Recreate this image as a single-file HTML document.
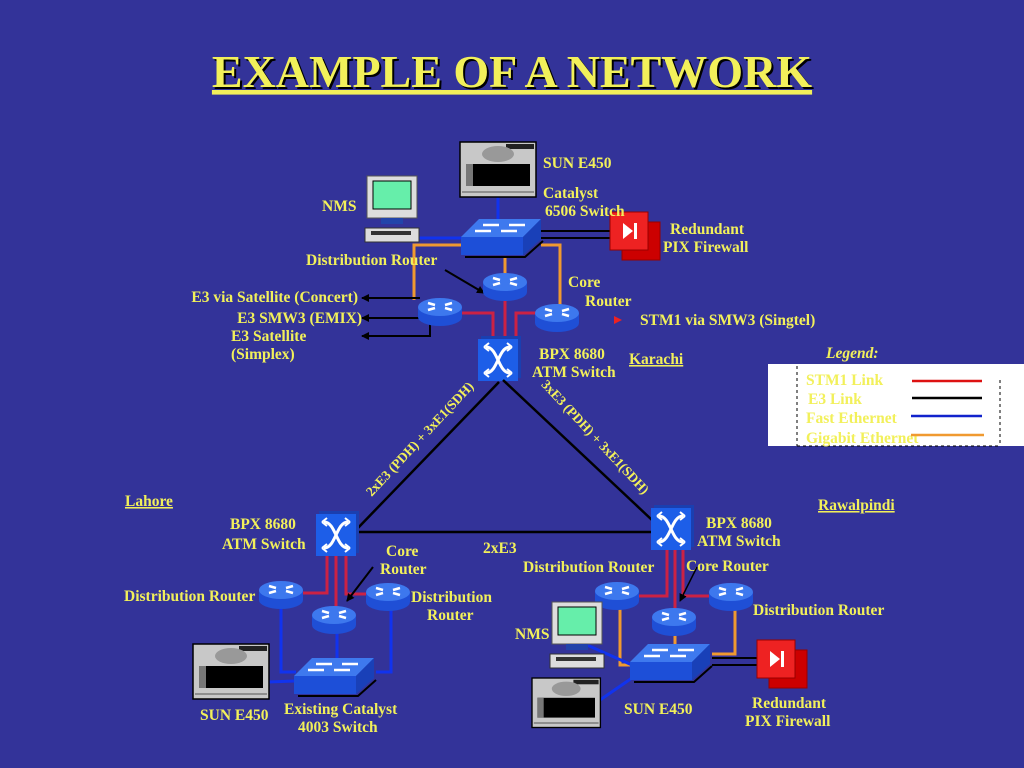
<!DOCTYPE html>
<html><head><meta charset="utf-8"><style>
html,body{margin:0;padding:0;background:#333399;}
svg{display:block}
text{font-family:"Liberation Serif",serif;font-weight:bold;font-size:15.5px;fill:#f2f05a;}
</style></head><body>
<svg width="1024" height="768" viewBox="0 0 1024 768" xmlns="http://www.w3.org/2000/svg">
<defs>
<marker id="ah" markerWidth="8" markerHeight="8" refX="7" refY="4" orient="auto" markerUnits="userSpaceOnUse"><path d="M0,0 L8,4 L0,8 z" fill="#000"/></marker>
<g id="router">
 <path d="M-22,0 L-22,10 A22,9 0 0 0 22,10 L22,0 z" fill="#1f4fd6"/>
 <ellipse cx="0" cy="0" rx="22" ry="9" fill="#3d78ee"/>
 <path d="M-12,-4 l7,2 M-12,3 l7,-2 M12,-4 l-7,2 M12,3 l-7,-2" stroke="#fff" stroke-width="2.5"/>
</g>
<g id="switch">
 <path d="M0,20 L0,38 L62,38 L80,22 L80,2 L62,20 z" fill="#1d4fd8"/>
 <path d="M0,20 L18,2 L80,2 L62,20 z" fill="#3e79ee"/>
 <path d="M62,20 L80,2 L80,22 L62,38 z" fill="#1940b8"/>
 <path d="M4,40 L64,40 L82,24" stroke="#000" stroke-width="2" fill="none"/>
 <path d="M22,8 l16,0 M48,8 l16,0 M14,14 l16,0 M40,14 l16,0" stroke="#fff" stroke-width="2.5"/>
</g>
<g id="bpx">
 <rect x="3" y="-3" width="40" height="42" fill="#1a3fb0"/>
 <rect x="0" y="0" width="40" height="42" fill="#1d5ee8"/>
 <path d="M8,8 C20,8 20,34 32,34 M8,34 C20,34 20,8 32,8" stroke="#fff" stroke-width="3" fill="none"/>
 <path d="M6,8 l5,-4 M6,8 l5,4 M34,8 l-5,-4 M34,8 l-5,4 M6,34 l5,-4 M6,34 l5,4 M34,34 l-5,-4 M34,34 l-5,4" stroke="#fff" stroke-width="2"/>
</g>
<g id="server">
 <rect x="0" y="0" width="76" height="55" fill="#c8c8c8" stroke="#000" stroke-width="1.5"/>
 <rect x="46" y="2" width="28" height="5" fill="#222"/>
 <ellipse cx="38" cy="12" rx="16" ry="8" fill="#999"/>
 <rect x="6" y="22" width="64" height="22" fill="#000"/>
 <rect x="6" y="22" width="7" height="22" fill="#777"/>
 <line x1="2" y1="50" x2="74" y2="50" stroke="#555"/>
</g>
<g id="nms">
 <rect x="0" y="0" width="50" height="42" fill="#ddd" stroke="#555"/>
 <rect x="6" y="5" width="38" height="28" fill="#66eeaa" stroke="#000"/>
 <rect x="-2" y="52" width="54" height="14" fill="#ddd" stroke="#333"/>
 <rect x="14" y="42" width="22" height="6" fill="#2244aa"/>
 <rect x="4" y="55" width="40" height="4" fill="#333"/>
</g>
<g id="fw">
 <rect x="12" y="10" width="38" height="38" fill="#cc0000" stroke="#900"/>
 <rect x="0" y="0" width="38" height="38" fill="#ee2222" stroke="#900"/>
 <path d="M13,11 L23,19 L13,27 z" fill="#fff"/><rect x="24" y="11" width="3" height="16" fill="#fff"/>
</g>
</defs>

<text x="514" y="89" text-anchor="middle" style="font-size:46px;fill:#000">EXAMPLE OF A NETWORK</text>
<text x="512" y="87" text-anchor="middle" style="font-size:46px;text-decoration:underline">EXAMPLE OF A NETWORK</text>

<!-- top links -->
<line x1="498" y1="196" x2="498" y2="220" stroke="#1133ee" stroke-width="3"/>
<line x1="419" y1="238" x2="462" y2="238" stroke="#1133ee" stroke-width="3"/>
<line x1="541" y1="231" x2="612" y2="231" stroke="#000" stroke-width="2"/>
<line x1="541" y1="238" x2="612" y2="238" stroke="#000" stroke-width="2"/>
<path d="M462,245 L414,245 L414,300" stroke="#f09a30" stroke-width="3" fill="none"/>
<path d="M541,245 L560,245 L560,305" stroke="#f09a30" stroke-width="3" fill="none"/>
<line x1="505" y1="257" x2="505" y2="278" stroke="#f09a30" stroke-width="3"/>
<path d="M460,313 L493,313 L493,342" stroke="#cc2244" stroke-width="3" fill="none"/>
<line x1="505" y1="294" x2="505" y2="342" stroke="#cc2244" stroke-width="3"/>
<path d="M537,313 L516,313 L516,342" stroke="#cc2244" stroke-width="3" fill="none"/>
<line x1="420" y1="298" x2="362" y2="298" stroke="#000" stroke-width="2" marker-end="url(#ah)"/>
<line x1="420" y1="318" x2="362" y2="318" stroke="#000" stroke-width="2" marker-end="url(#ah)"/>
<path d="M430,322 L430,336 L362,336" stroke="#000" stroke-width="2" fill="none" marker-end="url(#ah)"/>
<line x1="445" y1="270" x2="484" y2="293" stroke="#000" stroke-width="2" marker-end="url(#ah)"/>

<use href="#server" x="460" y="142"/>
<use href="#nms" x="367" y="176"/>
<use href="#switch" x="461" y="217"/>
<use href="#fw" x="610" y="212"/>
<use href="#router" x="505" y="282"/>
<use href="#router" x="440" y="307"/>
<use href="#router" x="557" y="313"/>
<use href="#bpx" x="478" y="339"/>

<text x="543" y="168">SUN E450</text>
<text x="322" y="211">NMS</text>
<text x="543" y="198">Catalyst</text>
<text x="545" y="216">6506 Switch</text>
<text x="670" y="234">Redundant</text>
<text x="663" y="252">PIX Firewall</text>
<text x="306" y="265">Distribution Router</text>
<text x="568" y="287">Core</text>
<text x="585" y="306">Router</text>
<path d="M614,316 L622,320 L614,324 z" fill="#ee2222"/>
<text x="640" y="325">STM1 via SMW3 (Singtel)</text>
<text x="358" y="302" text-anchor="end">E3 via Satellite (Concert)</text>
<text x="362" y="323" text-anchor="end">E3 SMW3 (EMIX)</text>
<text x="231" y="341">E3 Satellite</text>
<text x="231" y="359">(Simplex)</text>
<text x="539" y="359">BPX 8680</text>
<text x="532" y="377">ATM Switch</text>
<text x="629" y="364" style="text-decoration:underline">Karachi</text>

<!-- legend -->
<text x="826" y="358" style="font-style:italic">Legend:</text>
<rect x="768" y="364" width="256" height="82" fill="#fff"/>
<path d="M797,366 L797,446 M1000,380 L1000,446 M797,446 L1000,446" stroke="#000" stroke-dasharray="3,3" fill="none"/>
<text x="806" y="385">STM1 Link</text>
<text x="808" y="404">E3 Link</text>
<text x="806" y="423">Fast Ethernet</text>
<text x="806" y="443">Gigabit Ethernet</text>
<line x1="912" y1="381" x2="982" y2="381" stroke="#dd1111" stroke-width="2.5"/>
<line x1="912" y1="398" x2="982" y2="398" stroke="#000" stroke-width="2.5"/>
<line x1="911" y1="416" x2="982" y2="416" stroke="#1122cc" stroke-width="2.5"/>
<line x1="911" y1="435" x2="984" y2="435" stroke="#f09a30" stroke-width="2.5"/>

<!-- triangle -->
<line x1="499" y1="382" x2="356" y2="530" stroke="#000" stroke-width="2.5"/>
<line x1="503" y1="380" x2="652" y2="520" stroke="#000" stroke-width="2.5"/>
<line x1="357" y1="532" x2="652" y2="532" stroke="#000" stroke-width="2.5"/>
<text transform="translate(423,442) rotate(-47)" text-anchor="middle" style="font-size:13.5px">2xE3 (PDH) + 3xE1(SDH)</text>
<text transform="translate(592,440) rotate(47)" text-anchor="middle" style="font-size:13.5px">3xE3 (PDH) + 3xE1(SDH)</text>
<text x="483" y="553">2xE3</text>
<text x="125" y="506" style="text-decoration:underline">Lahore</text>
<text x="818" y="510" style="text-decoration:underline">Rawalpindi</text>

<!-- bottom left -->
<path d="M301,593 L327,593 L327,556" stroke="#cc2244" stroke-width="3" fill="none"/>
<line x1="336" y1="556" x2="336" y2="610" stroke="#cc2244" stroke-width="3"/>
<path d="M368,594 L346,594 L346,556" stroke="#cc2244" stroke-width="3" fill="none"/>
<path d="M281,600 L281,672 L296,672" stroke="#1133ee" stroke-width="3" fill="none"/>
<path d="M391,604 L391,672 L376,672" stroke="#1133ee" stroke-width="3" fill="none"/>
<line x1="337" y1="628" x2="337" y2="658" stroke="#1133ee" stroke-width="3"/>
<line x1="268" y1="682" x2="295" y2="681" stroke="#1133ee" stroke-width="3"/>
<line x1="373" y1="567" x2="347" y2="601" stroke="#000" stroke-width="2" marker-end="url(#ah)"/>
<use href="#bpx" x="316" y="514"/>
<use href="#router" x="281" y="590"/>
<use href="#router" x="334" y="615"/>
<use href="#router" x="388" y="592"/>
<use href="#switch" x="294" y="656"/>
<use href="#server" x="193" y="644"/>
<text x="230" y="529">BPX 8680</text>
<text x="222" y="549">ATM Switch</text>
<text x="386" y="556">Core</text>
<text x="380" y="574">Router</text>
<text x="124" y="601">Distribution Router</text>
<text x="411" y="602">Distribution</text>
<text x="427" y="620">Router</text>
<text x="200" y="720">SUN E450</text>
<text x="284" y="714">Existing Catalyst</text>
<text x="298" y="732">4003 Switch</text>

<!-- bottom right -->
<path d="M637,596 L667,596 L667,550" stroke="#cc2244" stroke-width="3" fill="none"/>
<line x1="675" y1="550" x2="675" y2="612" stroke="#cc2244" stroke-width="3"/>
<path d="M710,596 L683,596 L683,550" stroke="#cc2244" stroke-width="3" fill="none"/>
<path d="M620,605 L620,665 L634,665" stroke="#f09a30" stroke-width="3" fill="none"/>
<path d="M735,605 L735,654 L712,654" stroke="#f09a30" stroke-width="3" fill="none"/>
<line x1="675" y1="630" x2="675" y2="645" stroke="#f09a30" stroke-width="3"/>
<line x1="712" y1="658" x2="760" y2="658" stroke="#000" stroke-width="2"/>
<line x1="712" y1="665" x2="760" y2="665" stroke="#000" stroke-width="2"/>
<line x1="587" y1="645" x2="632" y2="665" stroke="#1133ee" stroke-width="3"/>
<line x1="600" y1="700" x2="632" y2="678" stroke="#1133ee" stroke-width="3"/>
<use href="#bpx" x="651" y="508"/>
<use href="#router" x="617" y="591"/>
<use href="#router" x="674" y="617"/>
<use href="#router" x="731" y="592"/>
<use href="#switch" x="630" y="642"/>
<use href="#fw" x="757" y="640"/>
<use href="#nms" x="552" y="602"/>
<use href="#server" x="532" y="678" transform="translate(532,678) scale(0.9) translate(-532,-678)"/>
<text x="706" y="528">BPX 8680</text>
<text x="697" y="546">ATM Switch</text>
<text x="523" y="572">Distribution Router</text>
<text x="686" y="571">Core Router</text>
<text x="753" y="615">Distribution Router</text>
<text x="515" y="639">NMS</text>
<text x="624" y="714">SUN E450</text>
<text x="752" y="708">Redundant</text>
<text x="745" y="726">PIX Firewall</text>
<line x1="697" y1="567" x2="680" y2="601" stroke="#000" stroke-width="1.5" marker-end="url(#ah)"/>
</svg>
</body></html>
